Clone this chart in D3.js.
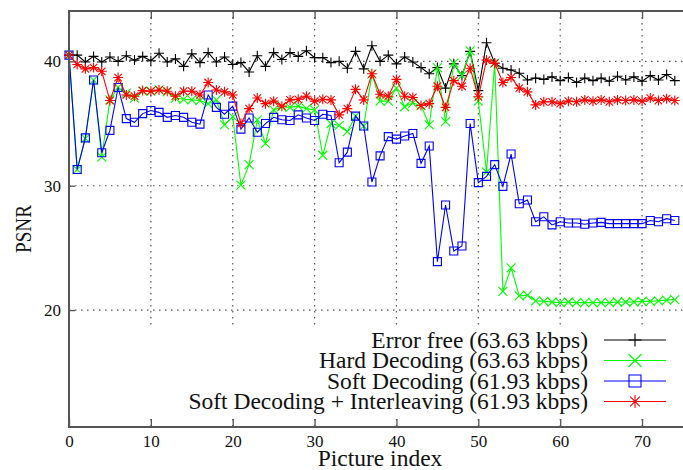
<!DOCTYPE html>
<html>
<head>
<meta charset="utf-8">
<script src="https://cdn.jsdelivr.net/npm/d3@7"></script>
<style>
  html, body { margin: 0; padding: 0; background: #fff; }
  svg { display: block; font-family: "Liberation Serif", "Times New Roman", serif; }
</style>
</head>
<body>
<svg id="chart" width="683" height="470"></svg>
<script>
// Picture indices 0..74
const pictureIndex = d3.range(75);

const xTicks = [0, 10, 20, 30, 40, 50, 60, 70];
const yTicks = [20, 30, 40];

const legendLabels = [
  "Error free (63.63 kbps)",
  "Hard Decoding (63.63 kbps)",
  "Soft Decoding (61.93 kbps)",
  "Soft Decoding + Interleaving (61.93 kbps)"
];

// PSNR (dB) per picture
const errorFree = [
  40.5, 40.5, 39.95, 40.4, 39.95, 40.35, 40.0, 40.45, 40.1, 40.4,
  40.05, 40.65, 39.95, 40.2, 39.6, 40.6, 39.9, 40.7, 39.95, 40.35,
  39.75, 39.9, 39.15, 40.45, 39.6, 40.7, 40.15, 40.7, 40.4, 40.85,
  40.3, 40.3, 39.9, 40.0, 39.45, 40.8, 39.4, 41.25, 40.0, 40.5,
  39.8, 40.35, 39.95, 39.5, 39.0, 39.5, 37.85, 39.8, 38.85, 40.8,
  37.65, 41.5, 39.85, 39.45, 39.3, 39.05, 38.5, 38.65, 38.55, 38.75,
  38.45, 38.7, 38.3, 38.65, 38.45, 38.65, 38.4, 38.8, 38.5, 38.75,
  38.4, 38.85, 38.5, 38.95, 38.45
];

const hardDecoding = [
  40.5, 31.3, 33.8, 38.5, 32.3, 36.9, 37.9, 37.45, 37.05, 37.6,
  37.6, 37.7, 37.55, 37.05, 36.95, 36.9, 36.85, 36.6, 36.9, 34.9,
  35.55, 30.05, 31.7, 35.3, 33.4, 36.1, 36.35, 36.3, 36.4, 36.2,
  36.1, 32.45, 35.0, 34.85, 34.35, 35.6, 34.8, 39.0, 36.8, 36.8,
  37.85, 36.35, 36.65, 36.45, 34.9, 39.5, 35.15, 39.85, 38.85, 40.85,
  36.8, 31.1, 39.85, 21.5, 23.4, 21.15, 21.2, 20.75, 20.7, 20.65,
  20.6, 20.65, 20.6, 20.6, 20.6, 20.6, 20.6, 20.65, 20.65, 20.65,
  20.7, 20.7, 20.75, 20.8, 20.85
];

const softDecoding = [
  40.5, 31.3, 33.85, 38.5, 32.65, 34.45, 37.9, 35.4, 35.1, 35.8,
  36.05, 35.9, 35.5, 35.65, 35.5, 35.1, 34.95, 37.3, 36.3, 35.75,
  36.4, 34.55, 35.45, 34.3, 35.0, 35.5, 35.3, 35.25, 35.7, 35.45,
  35.25, 35.75, 35.65, 31.85, 32.7, 35.6, 34.8, 30.3, 32.4, 33.95,
  33.75, 34.0, 34.2, 31.8, 33.2, 23.9, 28.45, 24.75, 25.15, 35.0,
  30.25, 30.75, 31.7, 29.95, 32.55, 28.55, 28.85, 27.1, 27.5, 26.85,
  27.1, 27.0, 27.0, 26.9, 27.0, 27.05, 26.95, 26.95, 26.95, 26.95,
  26.95, 27.2, 27.1, 27.35, 27.2
];

const softInterleaving = [
  40.5, 39.75, 39.4, 39.5, 39.2, 36.85, 38.7, 37.3, 37.2, 37.65,
  37.6, 37.7, 37.6, 37.2, 37.6, 37.6, 37.3, 38.3, 37.7, 37.55,
  37.3, 35.0, 36.2, 37.05, 36.6, 36.8, 36.4, 36.9, 36.95, 37.2,
  36.8, 36.95, 36.9, 35.7, 36.2, 37.75, 36.9, 39.0, 37.35, 37.2,
  38.55, 37.2, 37.1, 36.45, 36.6, 38.0, 36.3, 38.45, 38.0, 39.45,
  37.15, 40.1, 39.85, 38.3, 38.7, 37.85, 37.55, 36.5, 36.75, 36.75,
  36.6, 36.8, 36.75, 36.9, 36.8, 36.9, 36.75, 36.9, 36.85, 36.9,
  36.8, 37.05, 36.85, 37.0, 36.85
];

const seriesColors = ["#000000", "#00ff00", "#0000ff", "#ff0000"];
const seriesMarkers = ["plus", "cross", "square", "star"];
const seriesValues = [errorFree, hardDecoding, softDecoding, softInterleaving];

// ---- layout ----
const svg = d3.select("#chart");
const plot = { left: 69, right: 683, top: 11, bottom: 427 };

const x = d3.scaleLinear().domain([0, 75]).range([plot.left, plot.right]);
const y = d3.scaleLinear().domain([10.6, 44.05]).range([plot.bottom, plot.top]);

// ---- dotted grid ----
const grid = svg.append("g").attr("stroke", "#555").attr("stroke-width", 1.2)
  .attr("stroke-dasharray", "1.5,4.5").attr("fill", "none");
grid.selectAll("line.v").data(xTicks.filter(d => d > 0)).join("line")
  .attr("x1", d => x(d)).attr("x2", d => x(d))
  .attr("y1", plot.top).attr("y2", plot.bottom);
grid.selectAll("line.h").data(yTicks).join("line")
  .attr("x1", plot.left).attr("x2", plot.right)
  .attr("y1", d => y(d)).attr("y2", d => y(d));

// ---- marker shapes ----
function markerPath(kind, s) {
  if (kind === "plus") return `M${-s},0H${s}M0,${-s}V${s}`;
  if (kind === "cross") return `M${-s},${-s}L${s},${s}M${-s},${s}L${s},${-s}`;
  if (kind === "square") return `M${-s},${-s}H${s}V${s}H${-s}Z`;
  const d = s * 0.75;
  return `M${-s},0H${s}M0,${-s}V${s}M${-d},${-d}L${d},${d}M${-d},${d}L${d},${-d}`;
}
const markerSize = { plus: 5, cross: 4.5, square: 4, star: 5 };

// ---- series ----
const line = d3.line().x((d, i) => x(pictureIndex[i])).y(d => y(d));
seriesValues.forEach((vals, k) => {
  const g = svg.append("g");
  g.append("path").datum(vals)
    .attr("d", line).attr("fill", "none")
    .attr("stroke", seriesColors[k]).attr("stroke-width", 1.1);
  g.selectAll("path.m").data(vals).join("path")
    .attr("class", "m")
    .attr("transform", (d, i) => `translate(${x(pictureIndex[i])},${y(d)})`)
    .attr("d", markerPath(seriesMarkers[k], markerSize[seriesMarkers[k]]))
    .attr("fill", "none").attr("stroke", seriesColors[k]).attr("stroke-width", 1.1);
});

// ---- opaque key ----
const key = { x: plot.left + 1, y: 329, w: plot.right - plot.left - 1, h: 88 };
svg.append("rect").attr("x", key.x).attr("y", key.y).attr("width", key.w).attr("height", key.h)
  .attr("fill", "#fff");

const rowY = d3.scalePoint().domain(d3.range(legendLabels.length)).range([340, 401.5]);
const keyRows = svg.append("g").selectAll("g").data(legendLabels).join("g")
  .attr("transform", (d, i) => `translate(0,${rowY(i)})`);
keyRows.append("text")
  .attr("x", 588).attr("y", 0).attr("dy", "0.33em")
  .attr("text-anchor", "end").attr("font-size", 23.5).attr("fill", "#111")
  .text(d => d);
keyRows.append("line")
  .attr("x1", 604).attr("x2", 666).attr("y1", 0).attr("y2", 0)
  .attr("stroke", (d, i) => seriesColors[i]).attr("stroke-width", 1.1);
keyRows.append("path")
  .attr("transform", "translate(635,0)")
  .attr("d", (d, i) => markerPath(seriesMarkers[i], seriesMarkers[i] === "square" ? 6 : 6.5))
  .attr("fill", "none").attr("stroke", (d, i) => seriesColors[i]).attr("stroke-width", 1.1);

// ---- axes ----
const axisColor = "#555";
function styleAxis(g) {
  g.selectAll(".domain").remove();
  g.selectAll(".tick line").attr("stroke", axisColor).attr("stroke-width", 1.3);
  g.selectAll(".tick text").attr("fill", "#111").attr("font-family", "Liberation Serif");
}

svg.append("g").attr("transform", `translate(0,${plot.bottom})`)
  .call(d3.axisBottom(x).tickValues(xTicks).tickSizeInner(-8).tickSizeOuter(0).tickPadding(8))
  .attr("font-size", 17).call(styleAxis);
svg.append("g").attr("transform", `translate(0,${plot.top})`)
  .call(d3.axisTop(x).tickValues(xTicks).tickSizeInner(-8).tickSizeOuter(0).tickFormat(""))
  .call(styleAxis);
svg.append("g").attr("transform", `translate(${plot.left},0)`)
  .call(d3.axisLeft(y).tickValues(yTicks).tickSizeInner(-6).tickSizeOuter(0).tickPadding(8))
  .attr("font-size", 17).call(styleAxis);

// frame
svg.append("path")
  .attr("d", `M${plot.right + 2},${plot.top}H${plot.left}V${plot.bottom}H${plot.right + 2}`)
  .attr("fill", "none").attr("stroke", axisColor).attr("stroke-width", 2);

// ---- axis titles ----
svg.append("text")
  .attr("x", (plot.left + plot.right) / 2 + 4).attr("y", 466)
  .attr("text-anchor", "middle").attr("font-size", 23.5).attr("fill", "#111")
  .text("Picture index");
svg.append("text")
  .attr("transform", "translate(31,229) rotate(-90)")
  .attr("text-anchor", "middle").attr("font-size", 23.5).attr("fill", "#111")
  .attr("textLength", 48).attr("lengthAdjust", "spacingAndGlyphs")
  .text("PSNR");
</script>
</body>
</html>
